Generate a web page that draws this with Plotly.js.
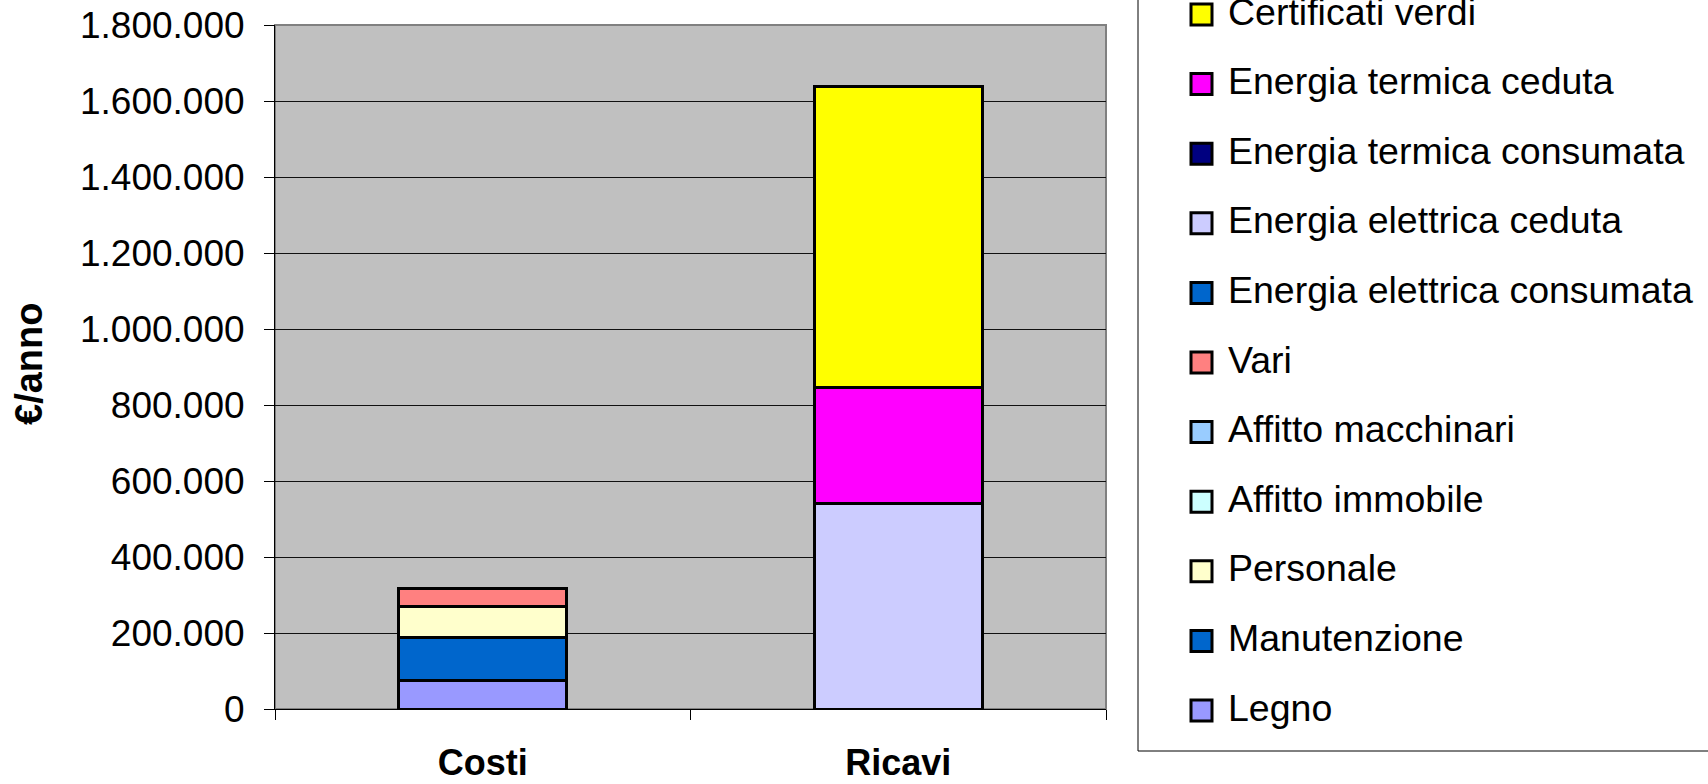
<!DOCTYPE html>
<html>
<head>
<meta charset="utf-8">
<script src="https://cdn.plot.ly/plotly-3.0.1.min.js"></script>
<style>html,body{margin:0;padding:0;background:#fff;}#chart{width:1708px;height:784px;}</style>
</head>
<body>
<div id="chart"></div>
<script>
// Categories
const categories = ["Costi", "Ricavi"];

// Series (bottom to top of stack)
const seriesNames = [
  "Legno", "Manutenzione", "Personale", "Affitto immobile", "Affitto macchinari", "Vari",
  "Energia elettrica consumata", "Energia elettrica ceduta", "Energia termica consumata",
  "Energia termica ceduta", "Certificati verdi"
];
const seriesColors = [
  "#9999FF", "#0066CC", "#FFFFCC", "#CCFFFF", "#99CCFF", "#FF8080",
  "#0066CC", "#CCCCFF", "#000080", "#FF00FF", "#FFFF00"
];
// values for [Costi, Ricavi]; null = no segment
const legno = [76000, null];
const manutenzione = [112000, null];
const personale = [82000, null];
const affittoImmobile = [null, null];
const affittoMacchinari = [null, null];
const vari = [47000, null];
const energiaElettricaConsumata = [null, null];
const energiaElettricaCeduta = [null, 541000];
const energiaTermicaConsumata = [null, null];
const energiaTermicaCeduta = [null, 306000];
const certificatiVerdi = [null, 790000];
const seriesValues = [legno, manutenzione, personale, affittoImmobile, affittoMacchinari, vari,
  energiaElettricaConsumata, energiaElettricaCeduta, energiaTermicaConsumata,
  energiaTermicaCeduta, certificatiVerdi];

// Y ticks and axis title
const yTickVals = [0, 200000, 400000, 600000, 800000, 1000000, 1200000, 1400000, 1600000, 1800000];
const yTitle = "€/anno";

const W = 1708, H = 784;
const M = {l: 275, r: 602, t: 25, b: 75};
const PW = W - M.l - M.r, PH = H - M.t - M.b;
const px2x = x => (x - M.l) / PW;
const px2y = y => (H - M.b - y) / PH;

const traces = seriesNames.map((name, i) => ({
  type: "bar",
  name: name,
  x: categories,
  y: seriesValues[i],
  marker: {color: seriesColors[i], line: {color: "#000", width: 3}},
  showlegend: false,
  hoverinfo: "x+y+name"
}));

const FONT = "Arial, 'Liberation Sans', sans-serif";
const shapes = [
  // plot area border
  {type: "rect", xref: "paper", yref: "paper", x0: 0, x1: 1, y0: 0, y1: 1,
   line: {color: "#808080", width: 2}, layer: "below"},
  // legend box
  {type: "rect", xref: "paper", yref: "paper", x0: px2x(1138), x1: px2x(1730), y0: px2y(751), y1: px2y(-10),
   line: {color: "#000", width: 1}, fillcolor: "rgba(0,0,0,0)"}
];
const annotations = [
  {xref: "paper", yref: "paper", x: px2x(29), y: px2y(364), xanchor: "center", yanchor: "middle",
   textangle: -90, showarrow: false, text: yTitle,
   font: {family: FONT, size: 38, weight: "bold", color: "#000"}}
];
// custom legend, top item = last series
const legendOrder = seriesNames.map((_, i) => seriesNames.length - 1 - i);
legendOrder.forEach((si, row) => {
  const cy = 14.5 + 69.6 * row;
  shapes.push({type: "rect", xref: "paper", yref: "paper",
    x0: px2x(1191), x1: px2x(1212), y0: px2y(cy + 10.5), y1: px2y(cy - 10.5),
    fillcolor: seriesColors[si], line: {color: "#000", width: 3}});
  annotations.push({xref: "paper", yref: "paper", x: px2x(1226), y: px2y(cy - 3),
    xanchor: "left", yanchor: "middle", showarrow: false, text: seriesNames[si],
    font: {family: FONT, size: 37.5, color: "#000"}});
});

const layout = {
  width: W, height: H,
  margin: M,
  paper_bgcolor: "#fff",
  plot_bgcolor: "#C0C0C0",
  barmode: "stack",
  bargap: 0.595,
  separators: ",.",
  showlegend: false,
  font: {family: FONT, color: "#000"},
  xaxis: {
    type: "category",
    tickson: "boundaries",
    ticks: "outside", ticklen: 10, tickcolor: "#000", tickwidth: 1,
    showgrid: false, showline: true, linecolor: "#000", linewidth: 1,
    tickfont: {family: FONT, size: 36, weight: "bold", color: "#000"},
    ticklabelstandoff: 22,
    automargin: false, fixedrange: true
  },
  yaxis: {
    range: [0, 1800000],
    tickvals: yTickVals,
    tickformat: ",d",
    ticks: "outside", ticklen: 10, tickcolor: "#000", tickwidth: 1,
    showgrid: true, gridcolor: "#111", gridwidth: 1,
    showline: true, linecolor: "#000", linewidth: 1,
    zeroline: false,
    tickfont: {family: FONT, size: 37, color: "#000"},
    ticklabelstandoff: 12,
    automargin: false, fixedrange: true
  },
  shapes: shapes,
  annotations: annotations
};

Plotly.newPlot("chart", traces, layout, {displayModeBar: false, staticPlot: true});
</script>
</body>
</html>
